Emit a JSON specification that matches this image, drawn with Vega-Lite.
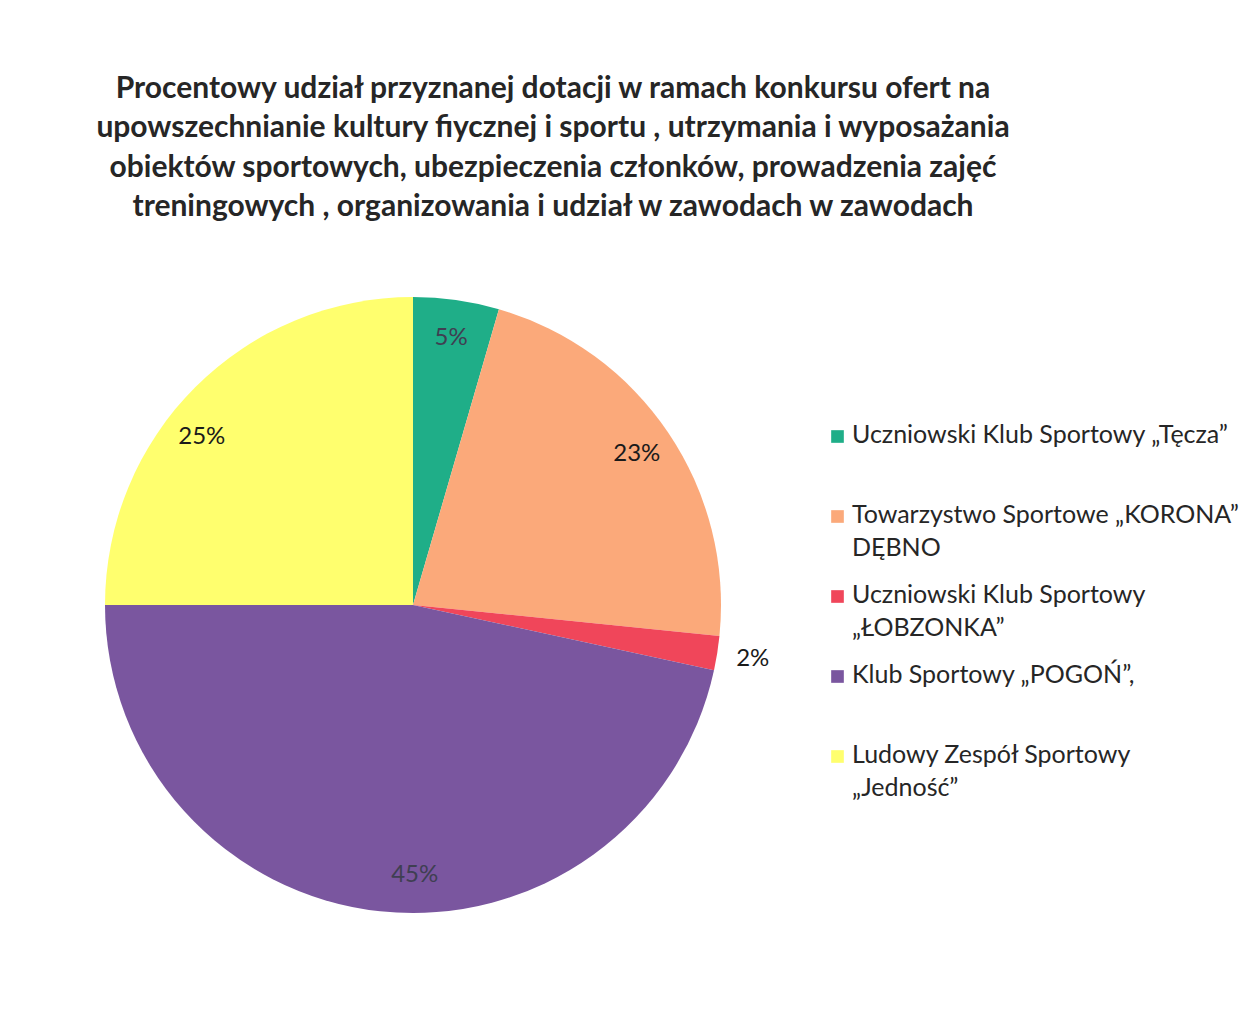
{
  "$schema": "https://vega.github.io/schema/vega-lite/v6.json",
  "autosize": "none",
  "width": 826,
  "height": 690,
  "padding": {"left": 0, "top": 260, "right": 419, "bottom": 69},
  "background": "white",
  "title": {
    "text": ["Procentowy udział przyznanej dotacji w ramach konkursu ofert na", "upowszechnianie kultury fiycznej i sportu , utrzymania i wyposażania", "obiektów sportowych, ubezpieczenia członków, prowadzenia zajęć", "treningowych , organizowania i udział w zawodach w zawodach"],
    "font": "Lato",
    "fontSize": 30,
    "fontWeight": "bold",
    "color": "#262626",
    "lineHeight": 39.5,
    "anchor": "middle",
    "dx": 140,
    "offset": 30
  },
  "datasets": {
    "slices": [
      {"idx": 1, "name": "Uczniowski Klub Sportowy „Tęcza”", "value": 4.5, "label": "5%"},
      {"idx": 2, "name": "Towarzystwo Sportowe „KORONA”|DĘBNO", "value": 22.1, "label": "23%"},
      {"idx": 3, "name": "Uczniowski Klub Sportowy|„ŁOBZONKA”", "value": 1.8, "label": "2%"},
      {"idx": 4, "name": "Klub Sportowy „POGOŃ”,", "value": 46.6, "label": "45%"},
      {"idx": 5, "name": "Ludowy Zespół Sportowy|„Jedność”", "value": 25.0, "label": "25%"}
    ]
  },
  "layer": [
    {
      "data": {"name": "slices"},
      "mark": {"type": "arc", "radius": 308},
      "encoding": {
        "theta": {"field": "value", "type": "quantitative", "stack": true},
        "order": {"field": "idx", "type": "quantitative"},
        "color": {
          "field": "name",
          "type": "nominal",
          "sort": {"field": "idx"},
          "scale": {
            "domain": ["Uczniowski Klub Sportowy „Tęcza”", "Towarzystwo Sportowe „KORONA”|DĘBNO", "Uczniowski Klub Sportowy|„ŁOBZONKA”", "Klub Sportowy „POGOŃ”,", "Ludowy Zespół Sportowy|„Jedność”"],
            "range": ["#1fae88", "#fba97a", "#f0465a", "#7a569f", "#ffff6e"]
          },
          "legend": {
            "title": null,
            "orient": "none",
            "legendX": 825,
            "legendY": 164,
            "symbolType": "square",
            "symbolSize": 160,
            "symbolStrokeWidth": 0,
            "labelFont": "Lato",
            "labelFontSize": 25,
            "labelColor": "#262626",
            "labelLimit": 600,
            "labelOffset": 2,
            "labelBaseline": "top",
            "labelExpr": "split(datum.label, '|')",
            "rowPadding": 21,
            "gridAlign": "all",
            "encode": {
              "labels": {"update": {"lineHeight": {"value": 33}, "dy": {"value": -14}}}
            }
          }
        }
      }
    },
    {
      "data": {"name": "slices"},
      "transform": [{"filter": "datum.value >= 3"}],
      "mark": {"type": "text", "radius": 270, "font": "Lato", "fontSize": 24},
      "encoding": {
        "theta": {"field": "value", "type": "quantitative", "stack": true},
        "order": {"field": "idx", "type": "quantitative"},
        "text": {"field": "label"},
        "color": {"condition": {"test": "datum.idx == 1 || datum.idx == 4", "value": "#3f3f52"}, "value": "#1a1a1a"}
      }
    },
    {
      "data": {"name": "slices"},
      "mark": {"type": "text", "radius": 344, "font": "Lato", "fontSize": 24},
      "encoding": {
        "theta": {"field": "value", "type": "quantitative", "stack": true},
        "order": {"field": "idx", "type": "quantitative"},
        "text": {"condition": {"test": "datum.value < 3", "field": "label"}, "value": ""},
        "color": {"value": "#1a1a1a"}
      }
    }
  ]
}
